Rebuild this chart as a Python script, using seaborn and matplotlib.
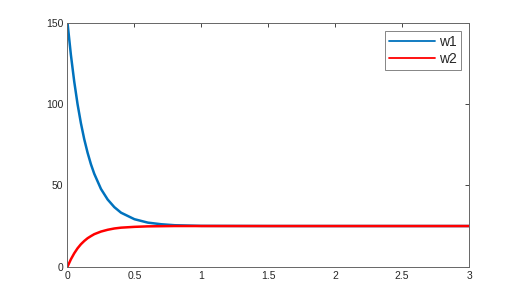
import matplotlib
matplotlib.use("Agg")
import matplotlib.pyplot as plt
import pandas as pd
import seaborn as sns

# values
t = [0, 0.025, 0.05, 0.075, 0.1, 0.125, 0.15, 0.175, 0.2, 0.25, 0.3, 0.35,
     0.4, 0.5, 0.6, 0.7, 0.8, 0.9, 1.0, 1.5, 2.0, 2.5, 3.0]
w1 = [150, 130.5, 114.0, 100.0, 88.3, 78.4, 70.1, 63.0, 57.1, 47.8, 41.3, 36.6,
      33.2, 29.2, 27.1, 26.1, 25.5, 25.3, 25.1, 25.0, 25.0, 25.0, 25.0]
w2 = [0, 4.5, 8.2, 11.3, 13.8, 15.8, 17.5, 18.8, 20.0, 21.6, 22.7, 23.5,
      24.0, 24.5, 24.8, 24.9, 25.0, 25.0, 25.0, 25.0, 25.0, 25.0, 25.0]
series_names = ["w1", "w2"]
series_colors = ["#0072BD", "#FF0000"]

xticks = [0, 0.5, 1, 1.5, 2, 2.5, 3]
xtick_labels = ["0", "0.5", "1", "1.5", "2", "2.5", "3"]
yticks = [0, 50, 100, 150]


def make_plot():
    sns.set_style("white")
    plt.rcParams["font.family"] = ["Liberation Sans", "DejaVu Sans"]

    df = pd.DataFrame({"t": t, "w1": w1, "w2": w2})
    df = df.melt("t", var_name="series", value_name="w")

    fig = plt.figure(figsize=(5.18, 3.0), dpi=100)
    ax = fig.add_axes([0.1303, 0.111, 0.7753, 0.8133])

    sns.lineplot(
        data=df,
        x="t",
        y="w",
        hue="series",
        hue_order=series_names,
        palette=series_colors,
        linewidth=1.8,
        ax=ax,
    )

    ax.set_xlim(0, 3)
    ax.set_ylim(0, 150)
    ax.set_xticks(xticks)
    ax.set_xticklabels(xtick_labels)
    ax.set_yticks(yticks)
    ax.set_xlabel("")
    ax.set_ylabel("")
    ax.tick_params(direction="in", length=3, width=0.6, colors="#262626",
                   labelsize=7.5, top=True, right=True, pad=3)
    for s in ax.spines.values():
        s.set_visible(True)
        s.set_color("#666666")
        s.set_linewidth(0.7)

    handles, labels = ax.get_legend_handles_labels()
    leg = ax.legend(handles, labels, loc="upper right", frameon=True,
                    fancybox=False, edgecolor="#666666", fontsize=10,
                    handlelength=3.3, handletextpad=0.25, borderpad=0.3,
                    labelspacing=0.2, borderaxespad=0.6)
    leg.get_frame().set_linewidth(0.7)
    for line in leg.get_lines():
        line.set_linewidth(1.3)

    fig.savefig("out.png", dpi=100)


if __name__ == "__main__":
    make_plot()
